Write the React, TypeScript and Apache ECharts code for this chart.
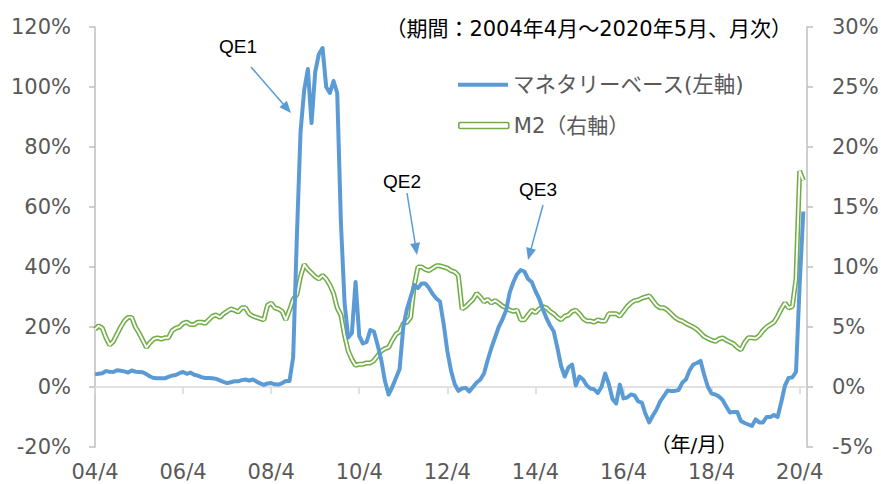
import React, { useEffect, useRef } from "react";
import * as echarts from "echarts";

// Monetary base YoY (%), left axis, monthly from 2004/4 to 2020/5
const monetaryBase: number[] = [
  4.2, 4.4, 4.6, 5.3, 5.1, 5.0, 5.6, 5.4, 5.2, 4.8, 5.5, 5.1,
  5.0, 4.9, 4.3, 3.5, 3.0, 2.9, 2.9, 2.9, 3.4, 3.8, 4.0, 4.6,
  5.0, 4.4, 4.8, 4.1, 3.8, 3.3, 3.0, 3.0, 2.9, 2.7, 2.2, 1.7,
  1.3, 1.6, 1.9, 1.9, 2.3, 2.5, 2.1, 2.5, 1.8, 1.2, 0.7, 1.2,
  1.3, 0.9, 0.8, 1.3, 2.0, 2.0, 10, 50, 85, 99, 106, 88,
  105, 111, 113, 100, 98, 102, 98, 55, 28, 16.5, 18, 35,
  17, 14.5, 15, 19, 18.5, 14, 9, 2, -2.5, 0, 3, 6,
  20, 26, 30, 34, 33, 34.5, 34.5, 33, 31, 29.5, 28.5, 21,
  12, 5.5, 1, -1.3, -0.5, -0.3, -1.5, 0, 1.5, 2.5, 4.5, 9,
  13, 16.5, 20, 22.5, 25.5, 31.5, 35, 37.6, 39, 38.5, 36, 35,
  32, 29.5, 26, 23, 20.5, 18.5, 13, 7, 3.5, 6.5, 7.5, 0.5,
  3.5, 2.5, 0.5, -0.5, -0.8, -2, 0, 4.5, 1, -4, -5.5, 0.8,
  -3.8, -3.5, -2.5, -2.8, -4.8, -5.2, -9, -11.8, -9.5, -7.5, -4.8, -3,
  -1.2, -1.3, -1.3, -1.0, 1.4, 2.5, 5.5, 7.5, 8, 8.7, 4, 0,
  -2.2, -2.5, -3.2, -4.3, -6.5, -8.5, -8.3, -8.3, -11.3, -12, -12.5, -13,
  -10.8, -11.8, -11.8, -10, -10, -9.3, -10, -5, 0.5, 3, 3.2, 5,
  34, 58.5,
];

// M2 YoY (%), right axis, monthly from 2004/4 to 2020/5
const m2: number[] = [
  4.8, 5.1, 4.9, 4.1, 3.5, 3.8, 4.4, 5.0, 5.5, 5.8, 5.8, 5.0,
  4.5, 3.9, 3.3, 3.7, 4.0, 4.1, 4.0, 4.1, 4.1, 4.7, 4.9, 5.0,
  5.3, 5.4, 5.2, 5.2, 5.4, 5.4, 5.3, 5.6, 5.9, 6.0, 5.8, 6.1,
  6.3, 6.5, 6.4, 6.25, 6.6, 6.6, 6.1, 5.9, 5.8, 5.7, 5.6, 6.8,
  7.0, 6.6, 6.5, 6.3, 5.6, 6.4, 7.3, 7.7, 9.2, 10.2, 9.8, 9.5,
  9.2, 9.0, 9.3, 9.0, 8.5, 7.8, 6.6, 6.0, 4.3, 3.0, 2.3, 1.8,
  1.9, 1.9, 2.0, 2.0, 2.2, 2.6, 3.0, 3.2, 3.3, 3.9, 4.4, 4.6,
  5.3, 5.4, 5.8, 8.5, 10.0, 10.0, 9.8, 9.7, 9.9, 10.1, 10.1, 10.0,
  9.9, 9.7, 9.6, 9.3, 6.5, 6.7, 7.0, 7.3, 7.8, 7.5, 7.1, 7.3,
  7.0, 7.2, 7.0, 6.75, 6.6, 6.4, 6.3, 6.4, 5.6, 5.6, 6.0, 6.4,
  6.2, 6.5, 6.7, 6.6, 6.3, 6.1, 5.8, 5.6, 5.9, 6.0, 6.3, 6.4,
  6.1, 5.7, 5.5, 5.5, 5.4, 5.6, 5.5, 5.5, 6.1, 6.1, 6.1, 5.9,
  6.3, 6.7, 7.0, 7.2, 7.25, 7.4, 7.5, 7.6, 7.2, 6.8, 6.6, 6.6,
  6.4, 6.1, 5.8, 5.6, 5.5, 5.3, 5.15, 5.0, 4.8, 4.5, 4.2, 4.05,
  3.9, 3.8, 4.0, 4.1, 3.9, 3.75, 3.6, 3.3, 3.1, 3.7, 4.1, 4.1,
  4.05, 4.3, 4.7, 5.0, 5.2, 5.4, 5.9, 6.5, 7.0, 6.6, 6.7, 9.0,
  18.0, 17.2,
];

// Month categories 2004/4 .. 2020/6 (last one is an empty slot at the right edge)
const categoryCount = 195;
const months: string[] = Array.from({ length: categoryCount }, (_, i) => {
  const t = 3 + i;
  const year = 2004 + Math.floor(t / 12);
  const month = (t % 12) + 1;
  return `${String(year % 100).padStart(2, "0")}/${month}`;
});

const leftTicks = { min: -20, max: 120, interval: 20 };
const rightTicks = { min: -5, max: 30, interval: 5 };

const MB_NAME = "マネタリーベース(左軸)";
const M2_NAME = "M2（右軸）";
const SUBTITLE = "（期間：2004年4月～2020年5月、月次）";
const UNIT_NOTE = "（年/月）";

const BLUE = "#5B9BD5";
const GREEN = "#70AD47";
const GRAY = "#595959";
const CJK = '"DejaVu Sans", "Noto Sans CJK JP", sans-serif';

function arrow(x1: number, y1: number, x2: number, y2: number) {
  const dx = x2 - x1;
  const dy = y2 - y1;
  const len = Math.hypot(dx, dy);
  const ux = dx / len;
  const uy = dy / len;
  const headLen = 12;
  const halfW = 5;
  const bx = x2 - ux * headLen;
  const by = y2 - uy * headLen;
  const nx = -uy;
  const ny = ux;
  return [
    {
      type: "line",
      shape: { x1, y1, x2: bx + ux * 2, y2: by + uy * 2 },
      style: { stroke: BLUE, lineWidth: 1.5 },
      z: 10,
    },
    {
      type: "polygon",
      shape: {
        points: [
          [x2, y2],
          [bx + nx * halfW, by + ny * halfW],
          [bx - nx * halfW, by - ny * halfW],
        ],
      },
      style: { fill: BLUE },
      z: 10,
    },
  ];
}

function label(text: string, x: number, y: number, size: number, align = "center", family = CJK, fill = "#000") {
  return {
    type: "text",
    x,
    y,
    z: 10,
    style: { text, fill, font: `${size}px ${family}`, align, verticalAlign: "middle" },
  };
}

export default function App() {
  const ref = useRef<HTMLDivElement>(null);

  useEffect(() => {
    if (!ref.current) return;
    const chart = echarts.init(ref.current, undefined, { renderer: "svg" });
    const axisLabelStyle = { fontSize: 21, color: GRAY, fontFamily: "DejaVu Sans" };
    chart.setOption({
      animation: false,
      grid: { left: 95, right: 74, top: 27, bottom: 37, containLabel: false, outerBoundsMode: "none" },
      xAxis: [
        {
          type: "category",
          data: months,
          boundaryGap: false,
          position: "bottom",
          axisLine: { show: false, onZero: false },
          axisTick: { show: false },
          axisLabel: { interval: 23, margin: 14, lineHeight: 21, ...axisLabelStyle },
          splitLine: { show: false },
        },
        {
          type: "category",
          data: months,
          boundaryGap: false,
          position: "bottom",
          axisLine: { show: true, onZero: true, onZeroAxisIndex: 0, lineStyle: { color: "#d9d9d9", width: 1.5 } },
          axisTick: { show: true, interval: 23, length: 7, lineStyle: { color: "#d9d9d9", width: 1.5 } },
          axisLabel: { show: false },
          splitLine: { show: false },
        },
      ],
      yAxis: [
        {
          type: "value",
          position: "left",
          ...leftTicks,
          axisLine: { show: true, lineStyle: { color: "#bfbfbf", width: 1.5 } },
          axisTick: { show: true, length: 6, lineStyle: { color: "#bfbfbf", width: 1.5 } },
          axisLabel: { formatter: "{value}%", margin: 24, ...axisLabelStyle },
          splitLine: { show: false },
        },
        {
          type: "value",
          position: "right",
          ...rightTicks,
          axisLine: { show: true, lineStyle: { color: "#bfbfbf", width: 1.5 } },
          axisTick: { show: true, length: 6, lineStyle: { color: "#bfbfbf", width: 1.5 } },
          axisLabel: { formatter: "{value}%", margin: 25, ...axisLabelStyle },
          splitLine: { show: false },
        },
      ],
      legend: [
        {
          data: [{ name: MB_NAME, icon: "rect" }],
          left: 458,
          top: 74,
          padding: 0,
          itemWidth: 50,
          itemHeight: 4,
          itemStyle: { color: BLUE, borderWidth: 0 },
          textStyle: { fontSize: 21.5, color: GRAY, fontFamily: CJK },
          selectedMode: false,
        },
        {
          data: [{ name: M2_NAME, icon: "roundRect" }],
          left: 458,
          top: 115,
          padding: 0,
          itemWidth: 50,
          itemHeight: 6,
          itemStyle: { color: "#ffffff", borderColor: GREEN, borderWidth: 1.6 },
          textStyle: { fontSize: 21, color: GRAY, fontFamily: CJK },
          selectedMode: false,
        },
      ],
      series: [
        {
          name: M2_NAME,
          type: "line",
          xAxisIndex: 0,
          yAxisIndex: 1,
          data: m2,
          symbol: "none",
          lineStyle: { color: GREEN, width: 5 },
          itemStyle: { color: GREEN },
          z: 2,
        },
        {
          name: "m2-inner",
          type: "line",
          xAxisIndex: 0,
          yAxisIndex: 1,
          data: m2,
          symbol: "none",
          silent: true,
          lineStyle: { color: "#ffffff", width: 1.9 },
          itemStyle: { color: "#ffffff" },
          z: 3,
        },
        {
          name: MB_NAME,
          type: "line",
          xAxisIndex: 0,
          yAxisIndex: 0,
          data: monetaryBase,
          symbol: "none",
          lineStyle: { color: BLUE, width: 4, join: "round" },
          itemStyle: { color: BLUE },
          z: 4,
        },
      ],
      graphic: [
        label(SUBTITLE, 792, 29, 21, "right"),
        label(UNIT_NOTE, 694, 445, 20, "center"),
        label("QE1", 238, 46, 19, "center", '"Liberation Sans", Arial, sans-serif'),
        label("QE2", 402, 181, 19, "center", '"Liberation Sans", Arial, sans-serif'),
        label("QE3", 538, 189, 19, "center", '"Liberation Sans", Arial, sans-serif'),
        ...arrow(251, 67, 291, 113),
        ...arrow(407, 193, 417, 255),
        ...arrow(543, 205, 528, 260),
      ],
    });
    return () => chart.dispose();
  }, []);

  return (
    <div
      ref={ref}
      style={{ position: "fixed", left: 0, top: 0, width: 881, height: 484, background: "#fff" }}
    />
  );
}
